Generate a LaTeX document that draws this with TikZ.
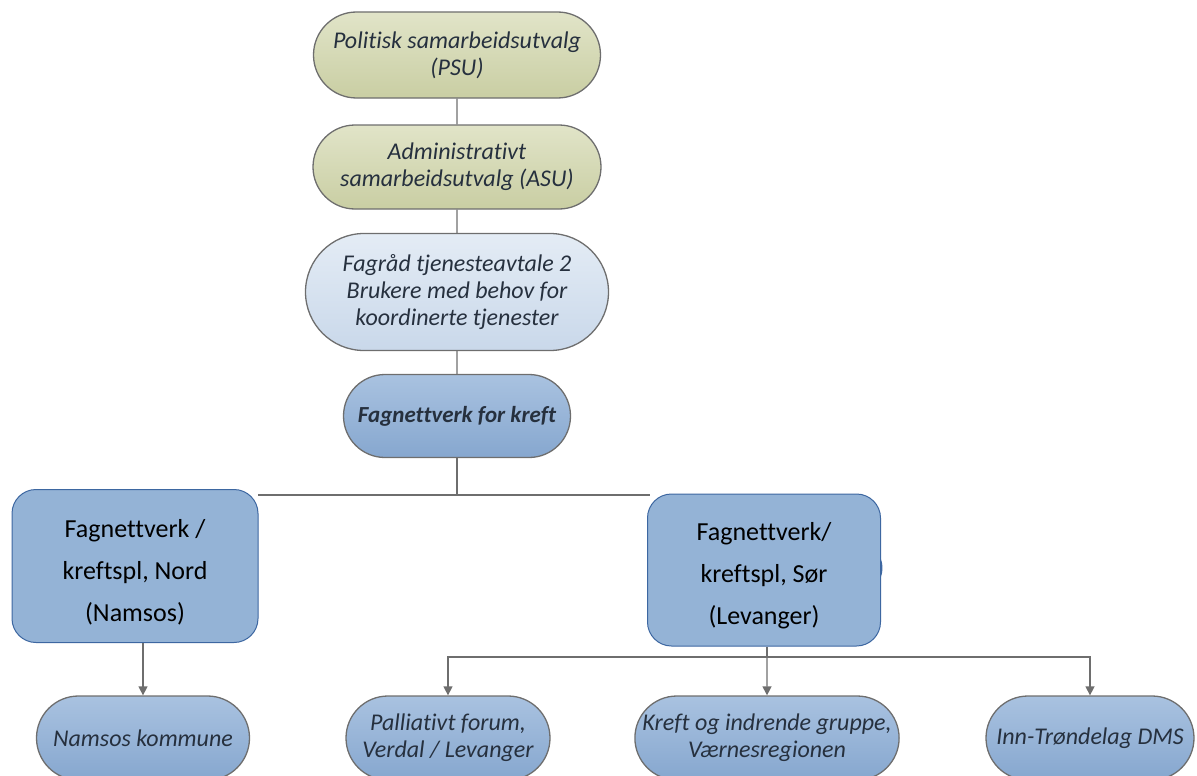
\documentclass[tikz,border=0pt]{standalone}
\usepackage{fontspec}
\setmainfont{Carlito}[Ligatures=NoCommon]
\usepackage{tikz}
\usetikzlibrary{shapes.misc, arrows.meta}
\definecolor{custom_green_top}{HTML}{E1E4C8}
\definecolor{custom_green_bot}{HTML}{C9CEA3}
\definecolor{custom_pale_top}{HTML}{E4ECF5}
\definecolor{custom_pale_bot}{HTML}{C9D8EA}
\definecolor{custom_blue_top}{HTML}{A9C2E0}
\definecolor{custom_blue_bot}{HTML}{86A7CF}
\definecolor{custom_box}{HTML}{94B3D6}
\definecolor{custom_boxline}{HTML}{3D67A1}
\definecolor{custom_gray}{HTML}{6E6E6E}
\definecolor{custom_text}{HTML}{26303E}

\begin{document}
\begin{tikzpicture}[x=1pt, y=-1pt,
        pill/.style={rounded rectangle, draw=custom_gray, line width=1.3pt, inner sep=0pt, align=center,
            text=custom_text, font=\itshape\fontsize{24}{27}\selectfont},
        greenpill/.style={pill, top color=custom_green_top, bottom color=custom_green_bot},
        bluepill/.style={pill, top color=custom_blue_top, bottom color=custom_blue_bot},
        bigbox/.style={rectangle, rounded corners=24pt, draw=custom_boxline, line width=1pt, fill=custom_box,
            align=center, font=\fontsize{26}{42}\selectfont},
        link/.style={draw=custom_gray, line width=1.4pt},
        arrow/.style={link, -{Triangle[length=9pt, width=9pt]}}]
    \clip (0,0) rectangle (1197,776);

    % top of the chain
    \node (psu) at (457,55) [greenpill, minimum width=287pt, minimum height=86pt] {Politisk samarbeidsutvalg\\(PSU)};
    \node (asu) at (457,167) [greenpill, minimum width=288pt, minimum height=84pt] {Administrativt\\samarbeidsutvalg (ASU)};
    \node (fagrad) at (457,292) [pill, top color=custom_pale_top, bottom color=custom_pale_bot,
        minimum width=303pt, minimum height=117pt] {Fagråd tjenesteavtale 2\\Brukere med behov for\\koordinerte tjenester};
    \node (kreft) at (457,416) [bluepill, minimum width=227pt, minimum height=83pt,
        font=\bfseries\itshape\fontsize{23}{27}\selectfont] {Fagnettverk for kreft};

    \draw[link] (psu) -- (asu);
    \draw[link] (asu) -- (fagrad);
    \draw[link] (fagrad) -- (kreft);

    % old shape left behind the Sor box
    \node (sorbak) at (772,568) [rounded rectangle, draw=custom_boxline, line width=1.5pt, fill=custom_box,
        minimum width=226pt, minimum height=56pt] {};

    \coordinate (split) at (457,495);
    \draw[link] (kreft) -- (split);
    \draw[link] (258,495) -- (650,495);

    % the two networks
    \node (nord) at (135,566) [bigbox, minimum width=246pt, minimum height=153pt] {\rule{0pt}{30pt}Fagnettverk /\\kreftspl, Nord\\(Namsos)};
    \node (sor) at (764,570) [bigbox, minimum width=233pt, minimum height=152pt] {\rule{0pt}{30pt}Fagnettverk/\\kreftspl, Sør\\(Levanger)};

    % bottom row
    \node (namsos) at (143,738) [bluepill, minimum width=213pt, minimum height=84pt] {Namsos kommune};
    \node (palliativt) at (448,738) [bluepill, minimum width=204pt, minimum height=84pt] {Palliativt forum,\\Verdal / Levanger};
    \node (indrende) at (767,738) [bluepill, minimum width=263pt, minimum height=84pt] {Kreft og indrende gruppe,\\Værnesregionen};
    \node (dms) at (1090,738) [bluepill, minimum width=208pt, minimum height=84pt] {Inn-Trøndelag DMS};

    \coordinate (fork) at (767,657);
    \draw[arrow] (nord.south -| namsos.north) -- (namsos);
    \draw[link] (sor.south -| fork) -- (fork);
    \draw[arrow] (fork) -- (indrende);
    \draw[arrow] (fork) -| (palliativt);
    \draw[arrow] (fork) -| (dms);
\end{tikzpicture}
\end{document}
